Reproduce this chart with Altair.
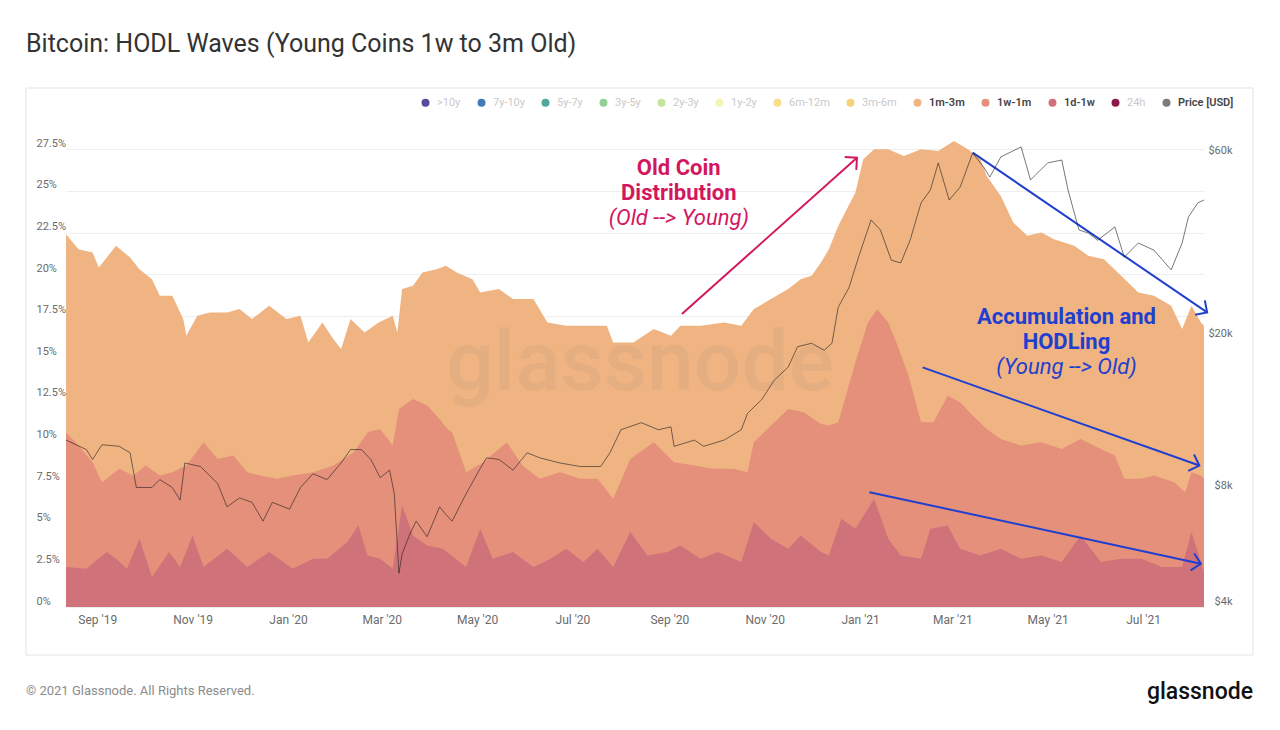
import math
from datetime import date

import altair as alt
import pandas as pd

TITLE = "Bitcoin: HODL Waves (Young Coins 1w to 3m Old)"

# ---------------- data ----------------
# Upper edge of each wave (% of supply, waves stacked from 1d upward)
top_1m_3m = [
    ("2019-08-12", 22.4), ("2019-08-20", 21.5), ("2019-08-29", 21.3), ("2019-09-02", 20.4),
    ("2019-09-13", 21.7), ("2019-09-22", 21.0), ("2019-09-28", 20.3), ("2019-10-06", 19.7),
    ("2019-10-11", 18.7), ("2019-10-19", 18.7), ("2019-10-26", 17.3), ("2019-10-28", 16.3),
    ("2019-11-04", 17.5), ("2019-11-12", 17.7), ("2019-11-23", 17.7), ("2019-12-01", 17.9),
    ("2019-12-09", 17.3), ("2019-12-20", 18.1), ("2019-12-31", 17.3), ("2020-01-09", 17.5),
    ("2020-01-14", 15.9), ("2020-01-23", 17.1), ("2020-01-30", 16.1), ("2020-02-04", 15.5),
    ("2020-02-10", 17.3), ("2020-02-19", 16.5), ("2020-02-28", 17.1), ("2020-03-08", 17.5),
    ("2020-03-11", 16.5), ("2020-03-14", 19.1), ("2020-03-21", 19.3), ("2020-03-27", 20.1),
    ("2020-04-05", 20.3), ("2020-04-11", 20.5), ("2020-04-18", 20.1), ("2020-04-28", 19.7),
    ("2020-05-03", 18.9), ("2020-05-15", 19.1), ("2020-05-24", 18.5), ("2020-06-06", 18.5),
    ("2020-06-15", 17.1), ("2020-06-27", 16.9), ("2020-07-10", 16.9), ("2020-07-23", 16.9),
    ("2020-07-27", 15.9), ("2020-08-09", 15.9), ("2020-08-22", 16.7), ("2020-09-02", 16.3),
    ("2020-09-08", 16.9), ("2020-09-21", 16.9), ("2020-10-06", 17.1), ("2020-10-17", 16.9),
    ("2020-10-25", 17.9), ("2020-11-05", 18.5), ("2020-11-16", 19.1), ("2020-11-24", 19.7),
    ("2020-12-01", 19.9), ("2020-12-07", 20.7), ("2020-12-12", 21.5), ("2020-12-18", 22.9),
    ("2020-12-29", 24.9), ("2021-01-03", 26.9), ("2021-01-10", 27.5), ("2021-01-19", 27.5),
    ("2021-01-29", 27.1), ("2021-02-09", 27.5), ("2021-02-20", 27.4), ("2021-03-02", 28.0),
    ("2021-03-11", 27.5), ("2021-03-19", 26.9), ("2021-03-23", 25.9), ("2021-04-01", 24.7),
    ("2021-04-09", 23.1), ("2021-04-18", 22.3), ("2021-04-27", 22.5), ("2021-05-05", 22.1),
    ("2021-05-18", 21.7), ("2021-05-27", 21.1), ("2021-06-06", 20.9), ("2021-06-17", 19.9),
    ("2021-06-28", 18.9), ("2021-07-08", 18.7), ("2021-07-19", 18.1), ("2021-07-26", 16.7),
    ("2021-08-01", 18.1), ("2021-08-07", 17.1), ("2021-08-09", 16.9),
]

top_1w_1m = [
    ("2019-08-12", 10.5), ("2019-08-20", 9.7), ("2019-08-29", 8.7), ("2019-09-04", 7.5),
    ("2019-09-15", 8.3), ("2019-09-24", 7.9), ("2019-10-02", 8.5), ("2019-10-11", 7.9),
    ("2019-10-19", 8.1), ("2019-10-28", 8.5), ("2019-11-08", 9.9), ("2019-11-17", 8.9),
    ("2019-11-27", 9.1), ("2019-12-06", 8.1), ("2019-12-14", 7.9), ("2019-12-25", 7.7),
    ("2020-01-04", 7.9), ("2020-01-17", 8.1), ("2020-01-30", 8.5), ("2020-02-12", 9.3),
    ("2020-02-21", 10.5), ("2020-02-29", 10.7), ("2020-03-08", 9.7), ("2020-03-12", 11.9),
    ("2020-03-21", 12.5), ("2020-03-30", 12.1), ("2020-04-07", 11.3), ("2020-04-12", 10.7),
    ("2020-04-15", 10.5), ("2020-04-24", 8.1), ("2020-05-05", 8.7), ("2020-05-20", 9.9),
    ("2020-05-30", 8.5), ("2020-06-10", 7.7), ("2020-06-23", 8.1), ("2020-07-06", 7.7),
    ("2020-07-17", 7.7), ("2020-07-27", 6.5), ("2020-08-07", 8.9), ("2020-08-22", 9.9),
    ("2020-09-04", 8.7), ("2020-09-17", 8.5), ("2020-09-29", 8.3), ("2020-10-12", 8.3),
    ("2020-10-21", 8.1), ("2020-10-25", 9.9), ("2020-11-05", 10.9), ("2020-11-16", 11.9),
    ("2020-11-26", 11.7), ("2020-12-07", 11.0), ("2020-12-12", 10.9), ("2020-12-18", 11.1),
    ("2020-12-29", 14.7), ("2021-01-06", 17.1), ("2021-01-12", 17.9), ("2021-01-19", 17.1),
    ("2021-01-25", 15.7), ("2021-02-01", 13.9), ("2021-02-09", 11.1), ("2021-02-17", 11.1),
    ("2021-02-26", 12.7), ("2021-03-06", 12.3), ("2021-03-14", 11.5), ("2021-03-23", 10.7),
    ("2021-04-01", 10.1), ("2021-04-14", 9.7), ("2021-04-27", 9.9), ("2021-05-10", 9.5),
    ("2021-05-22", 10.1), ("2021-06-04", 9.5), ("2021-06-13", 9.1), ("2021-06-19", 7.7),
    ("2021-06-30", 7.7), ("2021-07-08", 7.9), ("2021-07-21", 7.5), ("2021-07-28", 6.9),
    ("2021-08-01", 8.1), ("2021-08-07", 7.9), ("2021-08-09", 7.7),
]

top_1d_1w = [
    ("2019-08-12", 2.4), ("2019-08-25", 2.3), ("2019-09-07", 3.3), ("2019-09-13", 2.9),
    ("2019-09-20", 2.3), ("2019-09-28", 4.1), ("2019-10-06", 1.8), ("2019-10-17", 3.3),
    ("2019-10-24", 2.4), ("2019-11-01", 4.3), ("2019-11-08", 2.4), ("2019-11-23", 3.5),
    ("2019-12-06", 2.4), ("2019-12-20", 3.3), ("2020-01-04", 2.3), ("2020-01-17", 2.9),
    ("2020-01-26", 2.9), ("2020-02-08", 3.9), ("2020-02-15", 4.9), ("2020-02-21", 3.1),
    ("2020-02-29", 2.9), ("2020-03-08", 2.3), ("2020-03-14", 6.1), ("2020-03-21", 4.3),
    ("2020-03-30", 3.7), ("2020-04-09", 3.5), ("2020-04-24", 2.4), ("2020-05-03", 4.7),
    ("2020-05-11", 2.9), ("2020-05-24", 3.3), ("2020-06-06", 2.4), ("2020-06-17", 2.9),
    ("2020-06-27", 3.5), ("2020-07-08", 2.7), ("2020-07-17", 3.5), ("2020-07-27", 2.4),
    ("2020-08-07", 4.5), ("2020-08-18", 3.1), ("2020-08-31", 3.3), ("2020-09-08", 3.7),
    ("2020-09-21", 2.9), ("2020-10-02", 3.3), ("2020-10-17", 2.7), ("2020-10-25", 5.1),
    ("2020-11-05", 4.1), ("2020-11-16", 3.5), ("2020-11-24", 4.3), ("2020-12-07", 3.3),
    ("2020-12-12", 3.1), ("2020-12-20", 5.3), ("2020-12-29", 4.7), ("2021-01-10", 6.5),
    ("2021-01-19", 4.1), ("2021-01-27", 3.1), ("2021-02-09", 2.9), ("2021-02-15", 4.7),
    ("2021-02-26", 4.9), ("2021-03-06", 3.5), ("2021-03-19", 3.1), ("2021-04-01", 3.5),
    ("2021-04-14", 2.9), ("2021-04-27", 3.1), ("2021-05-10", 2.7), ("2021-05-22", 4.3),
    ("2021-06-04", 2.7), ("2021-06-17", 2.9), ("2021-06-30", 2.9), ("2021-07-13", 2.4),
    ("2021-07-26", 2.4), ("2021-08-01", 4.5), ("2021-08-09", 2.1),
]

price_usd = [
    ("2019-08-12", 10900), ("2019-08-25", 10300), ("2019-08-29", 9700), ("2019-09-04", 10600),
    ("2019-09-15", 10500), ("2019-09-22", 10100), ("2019-09-26", 8200), ("2019-10-06", 8200),
    ("2019-10-11", 8600), ("2019-10-19", 8200), ("2019-10-24", 7600), ("2019-10-27", 9500),
    ("2019-11-06", 9300), ("2019-11-17", 8400), ("2019-11-23", 7300), ("2019-12-01", 7700),
    ("2019-12-09", 7500), ("2019-12-16", 6700), ("2019-12-22", 7500), ("2020-01-02", 7200),
    ("2020-01-09", 8200), ("2020-01-17", 8900), ("2020-01-26", 8600), ("2020-02-04", 9500),
    ("2020-02-10", 10300), ("2020-02-17", 10300), ("2020-02-23", 9700), ("2020-02-29", 8700),
    ("2020-03-06", 9100), ("2020-03-09", 7900), ("2020-03-12", 4900), ("2020-03-14", 5500),
    ("2020-03-19", 6200), ("2020-03-23", 6700), ("2020-03-30", 6100), ("2020-04-07", 7300),
    ("2020-04-12", 6900), ("2020-04-15", 6700), ("2020-04-24", 7900), ("2020-05-01", 8900),
    ("2020-05-07", 9800), ("2020-05-15", 9700), ("2020-05-24", 9100), ("2020-06-02", 10100),
    ("2020-06-10", 9800), ("2020-06-23", 9500), ("2020-07-06", 9300), ("2020-07-19", 9300),
    ("2020-07-25", 10100), ("2020-08-01", 11600), ("2020-08-14", 12100), ("2020-08-25", 11600),
    ("2020-09-02", 11800), ("2020-09-04", 10500), ("2020-09-17", 10900), ("2020-09-23", 10500),
    ("2020-10-06", 10900), ("2020-10-17", 11600), ("2020-10-21", 12800), ("2020-10-30", 13900),
    ("2020-11-07", 15600), ("2020-11-16", 16900), ("2020-11-22", 19100), ("2020-12-01", 19500),
    ("2020-12-09", 18700), ("2020-12-14", 19500), ("2020-12-18", 24200), ("2020-12-25", 27300),
    ("2020-12-31", 32700), ("2021-01-08", 40900), ("2021-01-14", 38500), ("2021-01-21", 32100),
    ("2021-01-27", 31600), ("2021-02-02", 36200), ("2021-02-09", 45300), ("2021-02-15", 49000),
    ("2021-02-20", 57600), ("2021-02-27", 46100), ("2021-03-06", 49800), ("2021-03-14", 61100),
    ("2021-03-21", 56200), ("2021-03-25", 52900), ("2021-04-01", 59700), ("2021-04-14", 63400),
    ("2021-04-20", 52000), ("2021-05-01", 57600), ("2021-05-10", 58600), ("2021-05-14", 49000),
    ("2021-05-21", 38500), ("2021-05-27", 37800), ("2021-06-02", 36200), ("2021-06-13", 39200),
    ("2021-06-19", 32700), ("2021-06-28", 35600), ("2021-07-08", 34100), ("2021-07-19", 30300),
    ("2021-07-26", 35600), ("2021-07-30", 41600), ("2021-08-05", 45300), ("2021-08-09", 46100),
]

legend_names = [">10y", "7y-10y", "5y-7y", "3y-5y", "2y-3y", "1y-2y", "6m-12m",
                "3m-6m", "1m-3m", "1w-1m", "1d-1w", "24h", "Price [USD]"]
legend_dot_colors = ["#5b4a9b", "#4279b8", "#4fa89c", "#93d096", "#c4e59c", "#f3f3b5", "#f8df8a",
                     "#f6d27f", "#f0a865", "#e8835d", "#d4575b", "#8c1a4a", "#7a7a7a"]
active_names = ["1m-3m", "1w-1m", "1d-1w", "Price [USD]"]
band_fill = {"1m-3m": "#f0b482", "1w-1m": "#e5907a", "1d-1w": "#d0727a"}

pct_ticks = [0, 2.5, 5, 7.5, 10, 12.5, 15, 17.5, 20, 22.5, 25, 27.5]
price_ticks = [4000, 8000, 20000, 60000]
month_ticks = [(2019, 9), (2019, 11), (2020, 1), (2020, 3), (2020, 5), (2020, 7), (2020, 9),
               (2020, 11), (2021, 1), (2021, 3), (2021, 5), (2021, 7)]

# annotations (data coordinates: date, % of supply)
pink_arrows = [("2020-09-09", 17.6, "2020-12-30", 27.0)]
blue_arrows = [("2021-03-14", 27.3, "2021-08-11", 17.7),
               ("2021-02-10", 14.4, "2021-08-06", 8.5),
               ("2021-01-07", 6.9, "2021-08-07", 2.6)]
pink_text = [("2020-09-07", 26.4, "Old Coin", "bold"),
             ("2020-09-07", 24.9, "Distribution", "bold"),
             ("2020-09-07", 23.4, "(Old --> Young)", "italic")]
blue_text = [("2021-05-13", 17.4, "Accumulation and", "bold"),
             ("2021-05-13", 15.9, "HODLing", "bold"),
             ("2021-05-13", 14.4, "(Young --> Old)", "italic")]

# ---------------- layout ----------------
W, H = 1138, 466
PAD = {"left": 66, "top": 141, "right": 76, "bottom": 123}
X_START, X_END = date(2019, 8, 12), date(2021, 8, 9)
PCT_MAX = 28
PRICE_DOMAIN = [4000, 65700]
FONT = "Roboto"
PINK = "#d3175f"
BLUE = "#1f3fd0"
AXIS_GREY = "#6b6b6b"

px_per_day = W / (X_END - X_START).days
px_per_pct = H / PCT_MAX


def dt(d):
    return alt.DateTime(year=d.year, month=d.month, date=d.day, utc=True)


xscale = alt.Scale(type="utc", domain=[dt(X_START), dt(X_END)])
xaxis = alt.Axis(
    values=[alt.DateTime(year=y, month=m, date=1, utc=True) for y, m in month_ticks],
    labelExpr="utcFormat(datum.value, \"%b '%y\")",
    grid=False, domain=False, ticks=False, labelPadding=7, labelColor=AXIS_GREY,
    labelFontSize=12, labelFont=FONT, labelOverlap=False,
)
yscale = alt.Scale(domain=[0, PCT_MAX], nice=False, zero=False)
yaxis = alt.Axis(
    values=pct_ticks, labelExpr="datum.value + '%'", orient="left",
    grid=True, gridColor="#eeeeee", gridWidth=1, domain=False, ticks=False,
    labelAlign="left", labelPadding=30, labelOffset=-6, labelColor=AXIS_GREY,
    labelFontSize=11, labelFont=FONT,
)


def X(field):
    return alt.X(field, type="temporal", scale=xscale, axis=xaxis, title=None)


def Y(field):
    return alt.Y(field, type="quantitative", scale=yscale, axis=yaxis, title=None, stack=None)


color_scale = alt.Scale(domain=legend_names,
                        range=[band_fill.get(n, c) for n, c in zip(legend_names, legend_dot_colors)])
active_test = "indexof([" + ",".join("'%s'" % n for n in active_names) + "], datum.value) >= 0"
legend_def = alt.Legend(
    orient="none", legendX=354, legendY=-44, direction="horizontal", columns=len(legend_names),
    symbolType="circle", symbolSize=64, symbolStrokeWidth=0, labelFontSize=11, labelFont=FONT,
    labelOffset=6, columnPadding=15, title=None, padding=0,
    labelColor=alt.ExprRef(expr=active_test + " ? '#454545' : '#c9c9c9'"),
    labelFontWeight=alt.ExprRef(expr=active_test + " ? 600 : 400"),
)


def band_frame(pairs, name):
    df = pd.DataFrame(pairs, columns=["date", "value"])
    df["band"] = name
    return df


one = pd.DataFrame({"k": [0]})

# panel frame
panel = alt.Chart(one).mark_rect(fillOpacity=0, stroke="#e3e3e3", strokeWidth=1).encode(
    x=alt.value(-40), x2=alt.value(1187), y=alt.value(-53), y2=alt.value(514))

areas = [
    alt.Chart(band_frame(pairs, name)).mark_area(interpolate="linear").encode(
        x=X("date"), y=Y("value"),
        color=alt.Color("band:N", scale=color_scale, legend=legend_def))
    for pairs, name in [(top_1m_3m, "1m-3m"), (top_1w_1m, "1w-1m"), (top_1d_1w, "1d-1w")]
]

watermark = alt.Chart(one).mark_text(
    text="glassnode", font=FONT, fontSize=84, fontWeight=500, color="#6f6f6f", opacity=0.08,
    align="center", baseline="middle").encode(x=alt.value(574), y=alt.value(224))


def arrow_frame(rows):
    df = pd.DataFrame(rows, columns=["d1", "p1", "d2", "p2"])
    angs = []
    for d1, p1, d2, p2 in rows:
        ddays = (date.fromisoformat(d2) - date.fromisoformat(d1)).days
        ang = math.degrees(math.atan2(-(p2 - p1) * px_per_pct, ddays * px_per_day))
        angs.append(ang % 360)
    df["ang"] = angs
    return df


ARROW_HEAD = "M-1,-1L0,0L-1,1"


def arrow_layers(rows, color):
    df = arrow_frame(rows)
    shaft = alt.Chart(df).mark_rule(color=color, strokeWidth=2).encode(
        x=X("d1"), x2=alt.X2("d2"), y=Y("p1"), y2=alt.Y2("p2"))
    head = alt.Chart(df).mark_point(shape=ARROW_HEAD, filled=False, size=300, strokeWidth=2,
                                    color=color, opacity=1).encode(
        x=X("d2"), y=Y("p2"), angle=alt.Angle("ang:Q", scale=None))
    return [shaft, head]


def text_layers(rows, color):
    df = pd.DataFrame(rows, columns=["date", "pct", "label", "style"])
    bold = alt.Chart(df[df["style"] == "bold"]).mark_text(
        font=FONT, fontSize=22, fontWeight="bold", color=color, align="center",
        baseline="middle").encode(x=X("date"), y=Y("pct"), text="label:N")
    ital = alt.Chart(df[df["style"] == "italic"]).mark_text(
        font=FONT, fontSize=22, fontStyle="italic", color=color, align="center",
        baseline="middle").encode(x=X("date"), y=Y("pct"), text="label:N")
    return [bold, ital]


title = alt.Chart(one).mark_text(
    text=TITLE, font=FONT, fontSize=25, color="#333333", align="left", baseline="middle"
).encode(x=alt.value(-40), y=alt.value(-97))
footer = alt.Chart(one).mark_text(
    text="\u00a9 2021 Glassnode. All Rights Reserved.", font=FONT, fontSize=13, color="#8c8c8c",
    align="left", baseline="middle").encode(x=alt.value(-40), y=alt.value(550))
logo = alt.Chart(one).mark_text(
    text="glassnode", font=FONT, fontSize=23, fontWeight=500, color="#111111",
    align="right", baseline="middle").encode(x=alt.value(1187), y=alt.value(551))

inner = alt.layer(
    panel, *areas, watermark,
    *arrow_layers(pink_arrows, PINK), *arrow_layers(blue_arrows, BLUE),
    *text_layers(pink_text, PINK), *text_layers(blue_text, BLUE),
    title, footer, logo,
)

price_df = pd.DataFrame(price_usd, columns=["date", "price"])
price_line = alt.Chart(price_df).mark_line(color="#1e1e1e", strokeWidth=1, opacity=0.6).encode(
    x=X("date"),
    y=alt.Y("price:Q", scale=alt.Scale(type="log", domain=PRICE_DOMAIN, nice=False),
            axis=alt.Axis(orient="right", values=price_ticks,
                          labelExpr="'$' + (datum.value / 1000) + 'k'", grid=False,
                          domain=False, ticks=False, labelAlign="right", labelPadding=28,
                          labelOffset=-6, labelColor=AXIS_GREY, labelFontSize=11,
                          labelFont=FONT),
            title=None),
)

chart = alt.layer(inner, price_line).resolve_scale(y="independent").properties(
    width=W, height=H, padding=PAD, autosize=alt.AutoSizeParams(type="none"),
    background="white",
).configure_view(stroke=None)

chart.save("out.html", embed_options={"renderer": "svg", "actions": False})
